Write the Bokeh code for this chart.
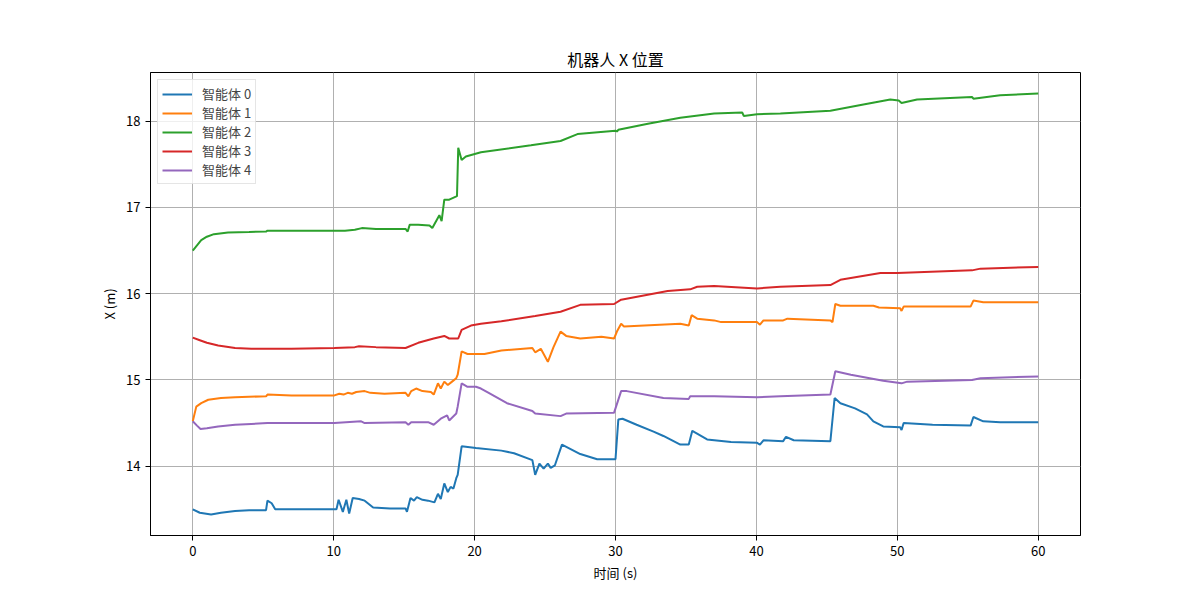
from bokeh.plotting import figure
from bokeh.models import Range1d, FixedTicker
from bokeh.embed import file_html
from bokeh.resources import INLINE

FONT = "Noto Sans CJK SC"

title = "机器人 X 位置"
x_label = "时间 (s)"
y_label = "X (m)"
labels = ["智能体 0", "智能体 1", "智能体 2", "智能体 3", "智能体 4"]
colors = ["#1f77b4", "#ff7f0e", "#2ca02c", "#d62728", "#9467bd"]
x_ticks = [0, 10, 20, 30, 40, 50, 60]
y_ticks = [14, 15, 16, 17, 18]

t0 = [0, 0.5, 1.3, 2, 3, 4, 5.2, 5.3, 5.6, 5.85, 8, 10.2, 10.35, 10.65, 10.9, 11.1, 11.35, 11.8, 12.2, 12.8,
      14, 15.1, 15.2, 15.45, 15.7, 15.9, 16.3, 16.7, 17.15, 17.4, 17.6, 17.85, 18.1, 18.3, 18.5, 18.7, 18.8,
      19.08, 20.1, 21.9, 22.8, 24.1, 24.3, 24.6, 24.9, 25.2, 25.4, 25.7, 26.2, 27.5, 28.7, 30.0, 30.2, 30.5,
      31.5, 32.7, 33.4, 34.6, 35.2, 35.45, 36.5, 38.2, 40.05, 40.25, 40.5, 41.9, 42.1, 42.65, 45.25, 45.55,
      45.96, 47.0, 47.85, 48.3, 49.0, 50.2, 50.3, 50.45, 52.5, 55.2, 55.4, 56.1, 57.3, 60]
x0 = [13.50, 13.46, 13.44, 13.46, 13.48, 13.49, 13.49, 13.60, 13.57, 13.50, 13.50, 13.50, 13.61, 13.47, 13.61,
      13.45, 13.63, 13.62, 13.60, 13.52, 13.51, 13.51, 13.47, 13.63, 13.60, 13.64, 13.61, 13.60, 13.58, 13.68,
      13.62, 13.80, 13.70, 13.76, 13.74, 13.86, 13.90, 14.23, 14.21, 14.18, 14.15, 14.07, 13.90, 14.03, 13.97,
      14.03, 13.98, 14.01, 14.25, 14.14, 14.08, 14.08, 14.54, 14.55, 14.48, 14.40, 14.35, 14.25, 14.25, 14.41,
      14.31, 14.28, 14.27, 14.25, 14.30, 14.29, 14.34, 14.30, 14.29, 14.79, 14.73, 14.67, 14.60, 14.52, 14.46,
      14.45, 14.42, 14.50, 14.48, 14.47, 14.57, 14.52, 14.51, 14.51]

t1 = [0, 0.25, 0.6, 1.1, 2, 3, 5.2, 5.3, 7, 10.05, 10.4, 10.7, 11.0, 11.3, 11.6, 12.2, 12.6, 13.6, 15.1, 15.3,
      15.5, 15.85, 16.3, 16.9, 17.1, 17.4, 17.6, 17.85, 18.1, 18.4, 18.7, 18.8, 19.08, 19.5, 20.7, 21.9, 24.1,
      24.3, 24.7, 25.2, 25.6, 26.1, 26.5, 27.5, 29.0, 29.9, 30.1, 30.4, 30.6, 34.6, 35.2, 35.4, 35.8, 37.0, 37.5,
      40.05, 40.25, 40.5, 41.9, 42.2, 45.25, 45.4, 45.6, 45.96, 48.3, 48.7, 50.2, 50.3, 50.45, 55.2, 55.4, 56.1,
      57.3, 60]
x1 = [14.52, 14.69, 14.73, 14.77, 14.79, 14.80, 14.81, 14.83, 14.82, 14.82, 14.84, 14.83, 14.85, 14.84, 14.86,
      14.87, 14.85, 14.84, 14.85, 14.81, 14.87, 14.90, 14.87, 14.86, 14.83, 14.96, 14.90, 14.98, 14.94, 14.98,
      15.02, 15.06, 15.33, 15.30, 15.30, 15.34, 15.37, 15.32, 15.36, 15.21, 15.38, 15.56, 15.51, 15.48, 15.50,
      15.48, 15.56, 15.65, 15.62, 15.65, 15.63, 15.75, 15.71, 15.69, 15.67, 15.67, 15.64, 15.69, 15.69, 15.71,
      15.69, 15.67, 15.88, 15.86, 15.86, 15.84, 15.83, 15.80, 15.85, 15.85, 15.92, 15.90, 15.90, 15.90]

t2 = [0, 0.3, 0.6, 1.0, 1.5, 2.5, 4, 5.2, 5.3, 10, 10.8, 11.5, 12.0, 13.0, 15.1, 15.25, 15.4, 16.0, 16.8, 17.0,
      17.5, 17.66, 17.85, 18.2, 18.75, 18.84, 19.08, 19.38, 20.45, 24.0, 26.1, 27.3, 30.0, 30.1, 30.2, 32.3, 34.6,
      37.0, 39.0, 39.1, 40.05, 41.7, 45.25, 47.5, 49.5, 50.1, 50.3, 51.4, 55.3, 55.4, 57.3, 60]
x2 = [16.50, 16.56, 16.62, 16.66, 16.69, 16.71, 16.715, 16.72, 16.73, 16.73, 16.73, 16.74, 16.76, 16.75, 16.75,
      16.72, 16.80, 16.80, 16.79, 16.76, 16.91, 16.84, 17.09, 17.09, 17.13, 17.69, 17.55, 17.59, 17.64, 17.72,
      17.77, 17.85, 17.89, 17.88, 17.90, 17.97, 18.04, 18.09, 18.10, 18.06, 18.08, 18.09, 18.12, 18.19, 18.25,
      18.24, 18.21, 18.25, 18.28, 18.26, 18.30, 18.32]

t3 = [0, 0.5, 1.0, 1.8, 3, 4.15, 7, 10.05, 11.5, 11.8, 13, 15.1, 16.0, 17.1, 17.85, 18.2, 18.84, 19.08, 19.74,
      20.45, 21.9, 24.3, 26.1, 27.5, 29.9, 30.4, 33.7, 35.3, 35.8, 37.0, 40.05, 41.7, 45.25, 45.96, 48.8, 50,
      55.3, 55.9, 60]
x3 = [15.49, 15.46, 15.43, 15.40, 15.37, 15.36, 15.36, 15.37, 15.38, 15.39, 15.38, 15.37, 15.43, 15.48, 15.51,
      15.48, 15.48, 15.58, 15.63, 15.65, 15.68, 15.74, 15.79, 15.87, 15.88, 15.93, 16.03, 16.05, 16.08, 16.09,
      16.06, 16.08, 16.10, 16.16, 16.24, 16.24, 16.27, 16.29, 16.31]

t4 = [0, 0.3, 0.55, 1.0, 1.8, 3, 4.15, 5.3, 10.05, 11.95, 12.2, 15.1, 15.3, 15.5, 16.7, 17.1, 17.6, 18.05, 18.2,
      18.7, 18.8, 19.08, 19.5, 20.1, 20.45, 21.0, 22.3, 24.1, 24.3, 26.1, 26.5, 29.9, 30.4, 30.8, 33.4, 35.2,
      35.3, 37.0, 40.05, 41.7, 45.25, 45.6, 46.7, 49.0, 50.3, 50.7, 55.3, 55.9, 60]
x4 = [14.52, 14.47, 14.43, 14.44, 14.46, 14.48, 14.49, 14.50, 14.50, 14.52, 14.50, 14.51, 14.48, 14.51, 14.51,
      14.48, 14.55, 14.59, 14.53, 14.61, 14.69, 14.96, 14.92, 14.92, 14.90, 14.85, 14.73, 14.64, 14.61, 14.58,
      14.61, 14.62, 14.87, 14.87, 14.79, 14.78, 14.81, 14.81, 14.80, 14.81, 14.83, 15.10, 15.06, 14.99, 14.96,
      14.98, 15.00, 15.02, 15.04]

series = [(t0, x0), (t1, x1), (t2, x2), (t3, x3), (t4, x4)]

p = figure(output_backend="svg", toolbar_location=None,
           frame_width=930, frame_height=463,
           x_range=Range1d(-3, 63), y_range=Range1d(13.196, 18.564))
p.min_border_left = 150
p.min_border_right = 112
p.min_border_top = 72
p.min_border_bottom = 57

for (t, x), lab, c in zip(series, labels, colors):
    p.line(t, x, line_color=c, line_width=2, legend_label=lab)

p.title.text = title
p.title.align = "center"
p.title.text_font = FONT
p.title.text_font_size = "16px"
p.title.text_font_style = "normal"
p.title.text_color = "black"
p.title.standoff = 4

p.xaxis.axis_label = x_label
p.yaxis.axis_label = y_label
for ax in (p.xaxis, p.yaxis):
    ax.axis_label_text_font = FONT
    ax.axis_label_text_font_size = "13px"
    ax.axis_label_text_font_style = "normal"
    ax.axis_label_text_color = "black"
    ax.major_label_text_font = FONT
    ax.major_label_text_font_size = "13px"
    ax.major_label_text_color = "black"
    ax.axis_line_color = "black"
    ax.major_tick_line_color = "black"
    ax.major_tick_out = 5
    ax.major_tick_in = 0
    ax.minor_tick_line_color = None
    ax.axis_label_standoff = 4
p.xaxis.ticker = FixedTicker(ticks=x_ticks)
p.yaxis.ticker = FixedTicker(ticks=y_ticks)

p.grid.grid_line_color = "#b0b0b0"
p.grid.grid_line_width = 1
p.outline_line_color = "black"
p.outline_line_width = 1
p.outline_line_alpha = 1

p.legend.location = "top_left"
p.legend.label_text_font = FONT
p.legend.label_text_font_size = "13px"
p.legend.border_line_color = "#cccccc"
p.legend.background_fill_alpha = 0.8
p.legend.glyph_width = 30
p.legend.glyph_height = 14
p.legend.spacing = 0
p.legend.padding = 4
p.legend.margin = 7
p.legend.label_standoff = 10
p.legend.label_height = 14

open("out.html", "w").write(file_html(p, INLINE))
